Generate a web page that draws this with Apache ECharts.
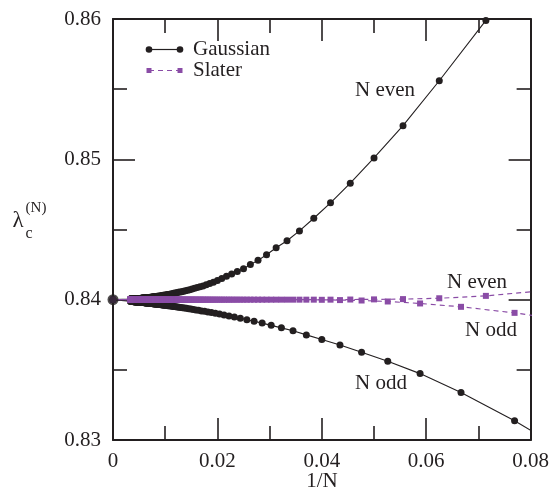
<!DOCTYPE html>
<html>
<head>
<meta charset="utf-8">
<script src="https://cdn.jsdelivr.net/npm/echarts@6/dist/echarts.min.js"></script>
<style>
  html, body { margin: 0; padding: 0; background: #ffffff; }
  #chart { width: 552px; height: 492px; }
</style>
</head>
<body>
<div id="chart"></div>
<script>
// Critical coupling lambda_c^(N) against 1/N, for Gaussian and Slater bases.
var nEven = [
  12, 14, 16, 18, 20, 22, 24, 26, 28, 30,
  32, 34, 36, 38, 40, 42, 44, 46, 48, 50,
  52, 54, 56, 58, 60, 62, 64, 66, 68, 70,
  72, 74, 76, 78, 80, 82, 84, 86, 88, 90,
  92, 94, 96, 98, 100, 102, 104, 106, 108, 110,
  112, 114, 116, 118, 120, 122, 124, 126, 128, 130,
  132, 134, 136, 138, 140, 142, 144, 146, 148, 150,
  152, 154, 156, 158, 160, 162, 164, 166, 168, 170,
  172, 174, 176, 178, 180, 182, 184, 186, 188, 190,
  192, 194, 196, 198, 200, 202, 204, 206, 208, 210,
  212, 214, 216, 218, 220, 222, 224, 226, 228, 230,
  232, 234, 236, 238, 240, 242, 244, 246, 248, 250,
  252, 254, 256, 258, 260, 262, 264, 266, 268, 270,
  272, 274, 276, 278, 280, 282, 284, 286, 288, 290,
  292, 294, 296, 298, 300
];
var nOdd = [
  11, 13, 15, 17, 19, 21, 23, 25, 27, 29,
  31, 33, 35, 37, 39, 41, 43, 45, 47, 49,
  51, 53, 55, 57, 59, 61, 63, 65, 67, 69,
  71, 73, 75, 77, 79, 81, 83, 85, 87, 89,
  91, 93, 95, 97, 99, 101, 103, 105, 107, 109,
  111, 113, 115, 117, 119, 121, 123, 125, 127, 129,
  131, 133, 135, 137, 139, 141, 143, 145, 147, 149,
  151, 153, 155, 157, 159, 161, 163, 165, 167, 169,
  171, 173, 175, 177, 179, 181, 183, 185, 187, 189,
  191, 193, 195, 197, 199, 201, 203, 205, 207, 209,
  211, 213, 215, 217, 219, 221, 223, 225, 227, 229,
  231, 233, 235, 237, 239, 241, 243, 245, 247, 249,
  251, 253, 255, 257, 259, 261, 263, 265, 267, 269,
  271, 273, 275, 277, 279, 281, 283, 285, 287, 289,
  291, 293, 295, 297, 299
];

// Gaussian basis
var gaussEven = [
  0.8665, 0.8599, 0.8556, 0.8524, 0.8501, 0.8483, 0.8469, 0.8458, 0.8449, 0.8442,
  0.8437, 0.8432, 0.8428, 0.8425, 0.8422, 0.8420, 0.84183, 0.84166, 0.84151, 0.84137,
  0.84125, 0.84115, 0.84106, 0.84098, 0.84092, 0.84086, 0.84081, 0.84076, 0.84071, 0.84067,
  0.84064, 0.8406, 0.84057, 0.84054, 0.84052, 0.84049, 0.84047, 0.84045, 0.84043, 0.84041,
  0.84039, 0.84037, 0.84036, 0.84034, 0.84033, 0.84032, 0.84031, 0.84029, 0.84028, 0.84027,
  0.84026, 0.84025, 0.84025, 0.84024, 0.84023, 0.84022, 0.84021, 0.84021, 0.8402, 0.8402,
  0.84019, 0.84018, 0.84018, 0.84017, 0.84017, 0.84016, 0.84016, 0.84015, 0.84015, 0.84015,
  0.84014, 0.84014, 0.84014, 0.84013, 0.84013, 0.84013, 0.84012, 0.84012, 0.84012, 0.84011,
  0.84011, 0.84011, 0.84011, 0.8401, 0.8401, 0.8401, 0.8401, 0.8401, 0.84009, 0.84009,
  0.84009, 0.84009, 0.84009, 0.84008, 0.84008, 0.84008, 0.84008, 0.84008, 0.84008, 0.84007,
  0.84007, 0.84007, 0.84007, 0.84007, 0.84007, 0.84007, 0.84007, 0.84006, 0.84006, 0.84006,
  0.84006, 0.84006, 0.84006, 0.84006, 0.84006, 0.84006, 0.84006, 0.84005, 0.84005, 0.84005,
  0.84005, 0.84005, 0.84005, 0.84005, 0.84005, 0.84005, 0.84005, 0.84005, 0.84005, 0.84005,
  0.84004, 0.84004, 0.84004, 0.84004, 0.84004, 0.84004, 0.84004, 0.84004, 0.84004, 0.84004,
  0.84004, 0.84004, 0.84004, 0.84004, 0.84004
];
var gaussOdd = [
  0.8283, 0.83137, 0.83339, 0.83473, 0.83561, 0.83625, 0.83677, 0.83716, 0.83749, 0.83778,
  0.83799, 0.83817, 0.83833, 0.83846, 0.83857, 0.83867, 0.83876, 0.83884, 0.83891, 0.83897,
  0.83903, 0.83908, 0.83912, 0.83917, 0.8392, 0.83924, 0.83927, 0.8393, 0.83933, 0.83936,
  0.83938, 0.8394, 0.83942, 0.83944, 0.83946, 0.83948, 0.83949, 0.83951, 0.83952, 0.83954,
  0.83955, 0.83956, 0.83957, 0.83958, 0.8396, 0.8396, 0.83961, 0.83962, 0.83963, 0.83964,
  0.83965, 0.83966, 0.83966, 0.83967, 0.83968, 0.83968, 0.83969, 0.8397, 0.8397, 0.83971,
  0.83971, 0.83972, 0.83972, 0.83973, 0.83973, 0.83974, 0.83974, 0.83975, 0.83975, 0.83975,
  0.83976, 0.83976, 0.83976, 0.83977, 0.83977, 0.83978, 0.83978, 0.83978, 0.83978, 0.83979,
  0.83979, 0.83979, 0.8398, 0.8398, 0.8398, 0.8398, 0.83981, 0.83981, 0.83981, 0.83981,
  0.83982, 0.83982, 0.83982, 0.83982, 0.83982, 0.83983, 0.83983, 0.83983, 0.83983, 0.83983,
  0.83984, 0.83984, 0.83984, 0.83984, 0.83984, 0.83984, 0.83985, 0.83985, 0.83985, 0.83985,
  0.83985, 0.83985, 0.83985, 0.83986, 0.83986, 0.83986, 0.83986, 0.83986, 0.83986, 0.83986,
  0.83986, 0.83987, 0.83987, 0.83987, 0.83987, 0.83987, 0.83987, 0.83987, 0.83987, 0.83987,
  0.83988, 0.83988, 0.83988, 0.83988, 0.83988, 0.83988, 0.83988, 0.83988, 0.83988, 0.83988,
  0.83989, 0.83989, 0.83989, 0.83989, 0.83989
];

// Slater basis
var slaterEven = [
  0.84067, 0.84027, 0.8401, 0.84004, 0.84002, 0.84001, 0.84, 0.84, 0.84, 0.84,
  0.84, 0.84, 0.84, 0.84, 0.84, 0.84, 0.84, 0.84, 0.84, 0.84,
  0.84, 0.84, 0.84, 0.84, 0.84, 0.84, 0.84, 0.84, 0.84, 0.84,
  0.84, 0.84, 0.84, 0.84, 0.84, 0.84, 0.84, 0.84, 0.84, 0.84,
  0.84, 0.84, 0.84, 0.84, 0.84, 0.84, 0.84, 0.84, 0.84, 0.84,
  0.84, 0.84, 0.84, 0.84, 0.84, 0.84, 0.84, 0.84, 0.84, 0.84,
  0.84, 0.84, 0.84, 0.84, 0.84, 0.84, 0.84, 0.84, 0.84, 0.84,
  0.84, 0.84, 0.84, 0.84, 0.84, 0.84, 0.84, 0.84, 0.84, 0.84,
  0.84, 0.84, 0.84, 0.84, 0.84, 0.84, 0.84, 0.84, 0.84, 0.84,
  0.84, 0.84, 0.84, 0.84, 0.84, 0.84, 0.84, 0.84, 0.84, 0.84,
  0.84, 0.84, 0.84, 0.84, 0.84, 0.84, 0.84, 0.84, 0.84, 0.84,
  0.84, 0.84, 0.84, 0.84, 0.84, 0.84, 0.84, 0.84, 0.84, 0.84,
  0.84, 0.84, 0.84, 0.84, 0.84, 0.84, 0.84, 0.84, 0.84, 0.84,
  0.84, 0.84, 0.84, 0.84, 0.84, 0.84, 0.84, 0.84, 0.84, 0.84,
  0.84, 0.84, 0.84, 0.84, 0.84
];
var slaterOdd = [
  0.8383, 0.83906, 0.83949, 0.83973, 0.83987, 0.83994, 0.83997, 0.83999, 0.84, 0.84,
  0.84, 0.84, 0.84, 0.84, 0.84, 0.84, 0.84, 0.84, 0.84, 0.84,
  0.84, 0.84, 0.84, 0.84, 0.84, 0.84, 0.84, 0.84, 0.84, 0.84,
  0.84, 0.84, 0.84, 0.84, 0.84, 0.84, 0.84, 0.84, 0.84, 0.84,
  0.84, 0.84, 0.84, 0.84, 0.84, 0.84, 0.84, 0.84, 0.84, 0.84,
  0.84, 0.84, 0.84, 0.84, 0.84, 0.84, 0.84, 0.84, 0.84, 0.84,
  0.84, 0.84, 0.84, 0.84, 0.84, 0.84, 0.84, 0.84, 0.84, 0.84,
  0.84, 0.84, 0.84, 0.84, 0.84, 0.84, 0.84, 0.84, 0.84, 0.84,
  0.84, 0.84, 0.84, 0.84, 0.84, 0.84, 0.84, 0.84, 0.84, 0.84,
  0.84, 0.84, 0.84, 0.84, 0.84, 0.84, 0.84, 0.84, 0.84, 0.84,
  0.84, 0.84, 0.84, 0.84, 0.84, 0.84, 0.84, 0.84, 0.84, 0.84,
  0.84, 0.84, 0.84, 0.84, 0.84, 0.84, 0.84, 0.84, 0.84, 0.84,
  0.84, 0.84, 0.84, 0.84, 0.84, 0.84, 0.84, 0.84, 0.84, 0.84,
  0.84, 0.84, 0.84, 0.84, 0.84, 0.84, 0.84, 0.84, 0.84, 0.84,
  0.84, 0.84, 0.84, 0.84, 0.84
];

// N -> infinity limit
var limitValue = 0.84;

var xTickLabels = ['0', '0.02', '0.04', '0.06', '0.08'];
var yTickLabels = ['0.83', '0.84', '0.85', '0.86'];

var INK = '#231f20';
var PURPLE = '#8a4ca6';
var FONT = '"Liberation Serif", "DejaVu Serif", serif';

function toPoints(ns, vals) {
  var pts = ns.map(function (n, i) { return [1 / n, vals[i]]; });
  pts.push([0, limitValue]);
  return pts;
}

function labelFor(list, min, step) {
  return function (v) {
    var idx = Math.round((v - min) / step);
    return list[idx] !== undefined ? list[idx] : '';
  };
}

var tickStyle = { color: INK, width: 1.6 };

function xAxis(pos, showLabel) {
  return {
    type: 'value', position: pos, min: 0, max: 0.08, interval: 0.02,
    axisLine: { show: true, onZero: false, lineStyle: { color: INK, width: 2 } },
    axisTick: { show: true, inside: true, length: 22, lineStyle: tickStyle },
    minorTick: { show: true, splitNumber: 2, length: 14, lineStyle: tickStyle },
    splitLine: { show: false },
    axisLabel: {
      show: showLabel, margin: 11, color: INK, fontFamily: FONT, fontSize: 21,
      formatter: labelFor(xTickLabels, 0, 0.02)
    }
  };
}
function yAxis(pos, showLabel) {
  return {
    type: 'value', position: pos, min: 0.83, max: 0.86, interval: 0.01,
    axisLine: { show: true, onZero: false, lineStyle: { color: INK, width: 2 } },
    axisTick: { show: true, inside: true, length: 22, lineStyle: tickStyle },
    minorTick: { show: true, splitNumber: 2, length: 14, lineStyle: tickStyle },
    splitLine: { show: false },
    axisLabel: {
      show: showLabel, margin: 12, color: INK, fontFamily: FONT, fontSize: 21,
      formatter: labelFor(yTickLabels, 0.83, 0.01)
    }
  };
}

function gaussSeries(name, pts) {
  return {
    name: name, type: 'line', xAxisIndex: 0, yAxisIndex: 0, data: pts,
    symbol: 'circle', symbolSize: 7, showSymbol: true, showAllSymbol: true, clip: true, z: 2,
    itemStyle: { color: INK },
    lineStyle: { color: INK, width: 1.1 }
  };
}
function slaterSeries(name, pts) {
  return {
    name: name, type: 'line', xAxisIndex: 0, yAxisIndex: 0, data: pts,
    symbol: 'rect', symbolSize: 6, showSymbol: true, showAllSymbol: true, clip: true, z: 3,
    itemStyle: { color: PURPLE },
    lineStyle: { color: PURPLE, width: 1.2, type: [5, 4] }
  };
}

function txt(x, y, s, size, align) {
  return {
    type: 'text', x: x, y: y, z: 10,
    style: { text: s, fill: INK, font: size + 'px ' + FONT, textAlign: align || 'center', textVerticalAlign: 'middle' }
  };
}

var chart = echarts.init(document.getElementById('chart'), null, { renderer: 'canvas' });
chart.setOption({
  animation: false,
  backgroundColor: '#ffffff',
  grid: { left: 113, right: 19, top: 19, bottom: 52, containLabel: false },
  xAxis: [xAxis('bottom', true), xAxis('top', false)],
  yAxis: [yAxis('left', true), yAxis('right', false)],
  series: [
    gaussSeries('Gaussian N even', toPoints(nEven, gaussEven)),
    gaussSeries('Gaussian N odd', toPoints(nOdd, gaussOdd)),
    slaterSeries('Slater N even', toPoints(nEven, slaterEven)),
    slaterSeries('Slater N odd', toPoints(nOdd, slaterOdd)),
    {
      name: 'limit', type: 'scatter', xAxisIndex: 0, yAxisIndex: 0,
      data: [[0, limitValue]], symbol: 'circle', symbolSize: 11, clip: false, z: 5,
      itemStyle: { color: INK }
    }
  ],
  graphic: [
    // legend
    { type: 'line', shape: { x1: 149, y1: 49.5, x2: 180, y2: 49.5 }, style: { stroke: INK, lineWidth: 1.2 }, z: 10 },
    { type: 'circle', shape: { cx: 149, cy: 49.5, r: 3.3 }, style: { fill: INK }, z: 10 },
    { type: 'circle', shape: { cx: 180, cy: 49.5, r: 3.3 }, style: { fill: INK }, z: 10 },
    txt(193, 49, 'Gaussian', 21, 'left'),
    { type: 'line', shape: { x1: 149, y1: 70.5, x2: 180, y2: 70.5 }, style: { stroke: PURPLE, lineWidth: 1.2, lineDash: [5, 4] }, z: 10 },
    { type: 'rect', shape: { x: 146.5, y: 68, width: 5, height: 5 }, style: { fill: PURPLE }, z: 10 },
    { type: 'rect', shape: { x: 177.5, y: 68, width: 5, height: 5 }, style: { fill: PURPLE }, z: 10 },
    txt(193, 70, 'Slater', 21, 'left'),
    // curve annotations
    txt(385, 90, 'N even', 21),
    txt(381, 383, 'N odd', 21),
    txt(477, 282, 'N even', 21),
    txt(491, 330, 'N odd', 21),
    // axis titles
    txt(322, 481, '1/N', 21),
    txt(18, 221, 'λ', 23),
    txt(36, 208, '(N)', 15),
    txt(29, 234, 'c', 16)
  ]
});
</script>
</body>
</html>
